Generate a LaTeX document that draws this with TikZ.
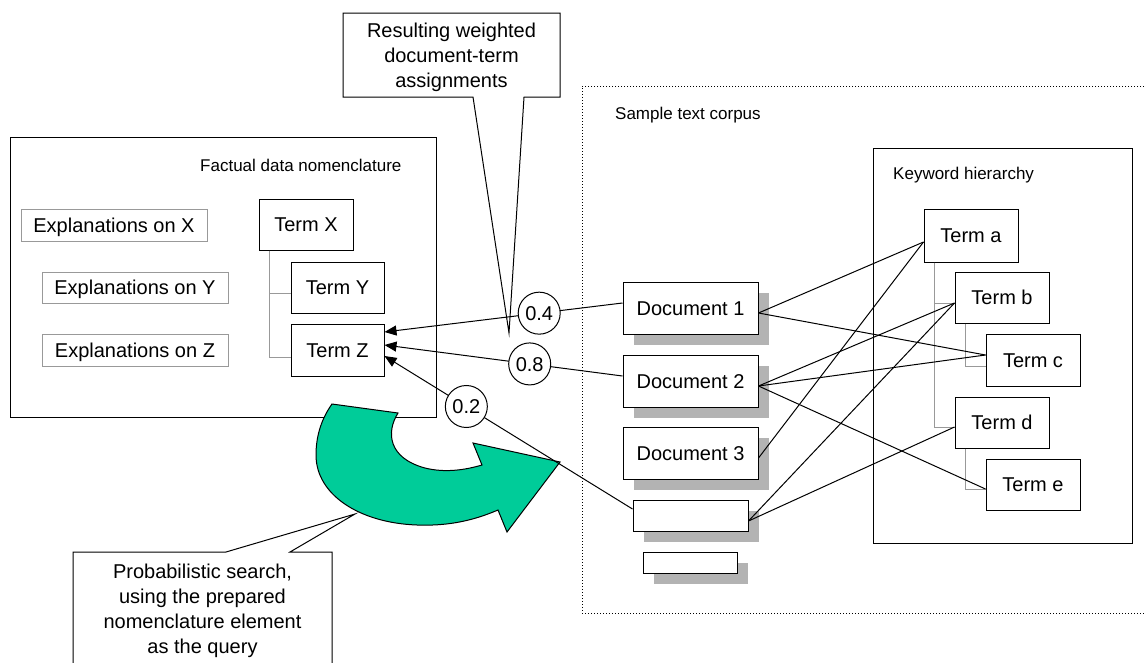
\documentclass[tikz,border=0pt]{standalone}
\usepackage{fontspec}
\setmainfont{Liberation Sans}
\usetikzlibrary{arrows.meta,shadows}
\definecolor{shgray}{HTML}{B3B3B3}
\definecolor{treegray}{HTML}{999999}
\definecolor{arrowgreen}{HTML}{00CC99}
\begin{document}
\begin{tikzpicture}[x=1pt,y=-1pt,
  box/.style={draw=black, line width=1pt, fill=white, inner sep=0pt,
    font=\fontsize{20}{24}\selectfont, text height=14.3pt, text depth=0pt},
  graybox/.style={box, draw=treegray},
  shadowed/.style={general shadow={fill=shgray, draw=none, shadow xshift=10.5pt, shadow yshift=-10.5pt}},
  circ/.style={circle, draw=black, line width=1pt, fill=white, minimum size=42pt, inner sep=0pt,
    font=\fontsize{20}{24}\selectfont, text height=14.3pt, text depth=0pt},
  lbl/.style={inner sep=0pt, anchor=west, font=\fontsize{17}{20}\selectfont, text height=12.2pt, text depth=0pt},
  calltext/.style={inner sep=0pt, anchor=north, align=center, font=\fontsize{20}{25.2}\selectfont},
  callout/.style={draw=black, line width=1pt, fill=white},
  conn/.style={draw=black, line width=1pt},
  arr/.style={conn, -{Triangle[length=12pt,width=10pt]}},
  tree/.style={draw=treegray, line width=1pt},
  frame/.style={draw=black, line width=1pt}
]
\useasboundingbox (0,0) rectangle (1146,662);
\clip (0,0) rectangle (1146,662);

% containers
\draw[frame] (10,137) rectangle (436,417);
\node[lbl] (factlbl) at (200,165) {Factual data nomenclature};
\draw[black, line width=1pt, dotted] (1150,86) -- (582,86) -- (582,613) -- (1150,613);
\node[lbl] (corplbl) at (615,113) {Sample text corpus};
\draw[frame] (873,148) rectangle (1132,543);
\node[lbl] (kwlbl) at (893,173) {Keyword hierarchy};

% top callout
\draw[callout] (343,13) -- (560,13) -- (560,97) -- (524,97) -- (509,333) -- (473,97) -- (343,97) -- cycle;
\node[calltext] (topcall) at (451.5,22.4) {Resulting weighted\\document-term\\assignments};

% factual nomenclature
\node[graybox, minimum width=186pt, minimum height=32pt] (ex) at (114,225) {Explanations on X};
\node[graybox, minimum width=186pt, minimum height=31pt] (ey) at (135,287.5) {Explanations on Y};
\node[graybox, minimum width=186pt, minimum height=32pt] (ez) at (135,350) {Explanations on Z};
\node[box, minimum width=94pt, minimum height=51pt] (tx) at (306,224.5) {Term X};
\node[box, minimum width=93pt, minimum height=51pt] (ty) at (337.5,287.5) {Term Y};
\node[box, minimum width=93pt, minimum height=52pt] (tz) at (337.5,350) {Term Z};
\draw[tree] ([xshift=11pt]tx.south west) |- ([yshift=-5.5pt]ty.west);
\draw[tree] ([xshift=11pt]tx.south west) |- ([yshift=-7pt]tz.west);

% documents
\node[box, shadowed, minimum width=135pt, minimum height=52pt] (d1) at (690.5,308) {Document 1};
\node[box, shadowed, minimum width=135pt, minimum height=52pt] (d2) at (690.5,381) {Document 2};
\node[box, shadowed, minimum width=135pt, minimum height=52pt] (d3) at (690.5,453) {Document 3};
\node[box, shadowed, minimum width=115pt, minimum height=31pt] (s1) at (690.5,515.5) {};
\node[box, shadowed, minimum width=94pt, minimum height=21pt] (s2) at (690,562.5) {};

% keyword hierarchy
\node[box, minimum width=94pt, minimum height=53pt] (ta) at (971,235.5) {Term a};
\node[box, minimum width=94pt, minimum height=51pt] (tb) at (1002,297.5) {Term b};
\node[box, minimum width=94pt, minimum height=52pt] (tc) at (1033,360) {Term c};
\node[box, minimum width=94pt, minimum height=51pt] (td) at (1002,422.5) {Term d};
\node[box, minimum width=94pt, minimum height=51pt] (te) at (1033,484.5) {Term e};
\draw[tree] ([xshift=11pt]ta.south west) |- ([yshift=-5.5pt]tb.west);
\draw[tree] ([xshift=11pt]ta.south west) |- ([yshift=-4.5pt]td.west);
\draw[tree] ([xshift=11pt]tb.south west) |- ([yshift=-6pt]tc.west);
\draw[tree] ([xshift=11pt]td.south west) |- ([yshift=-4.5pt]te.west);

% green curved arrow
\draw[black, line width=1pt, fill=arrowgreen]
  (332,404) -- (398,413)
  .. controls (386,432) and (388,458) .. (425,468)
  .. controls (445,473) and (465,470) .. (482,465)
  -- (473,443) -- (560,462) -- (507,532) -- (498,510)
  .. controls (470,522) and (445,526) .. (417,525)
  .. controls (360,523) and (316,495) .. (316,455)
  .. controls (316,435) and (322,418) .. (332,404) -- cycle;

% weighted assignments
\draw[arr] ([yshift=5pt]d1.west) -- node[circ, pos=0.35] (w1) {0.4} ([yshift=18pt]tz.east);
\draw[arr] ([yshift=5pt]d2.west) -- node[circ, pos=0.39] (w2) {0.8} ([yshift=5pt]tz.east);
\draw[arr] ([yshift=6.5pt]s1.west) -- node[circ, pos=0.67] (w3) {0.2} ([yshift=-6pt]tz.east);

% document-term links
\draw[conn] ([yshift=-5pt]d1.east) -- ([yshift=-6.5pt]ta.west);
\draw[conn] ([yshift=-5pt]d1.east) -- ([yshift=5pt]tc.west);
\draw[conn] ([yshift=-5pt]d2.east) -- ([yshift=-5.5pt]tb.west);
\draw[conn] ([yshift=-5pt]d2.east) -- ([yshift=5pt]tc.west);
\draw[conn] ([yshift=-5pt]d2.east) -- ([yshift=-4.5pt]te.west);
\draw[conn] ([yshift=-5pt]d3.east) -- ([yshift=-6.5pt]ta.west);
\draw[conn] ([yshift=-5.5pt]s1.east) -- ([yshift=-5.5pt]tb.west);
\draw[conn] ([yshift=-5.5pt]s1.east) -- ([yshift=-4.5pt]td.west);

% bottom callout
\draw[callout] (73,670) -- (73,552) -- (226,552) -- (355,514) -- (290,552) -- (332,552) -- (332,670);
\node[calltext] (botcall) at (202.5,563.4) {Probabilistic search,\\using the prepared\\nomenclature element\\as the query};
\end{tikzpicture}
\end{document}
